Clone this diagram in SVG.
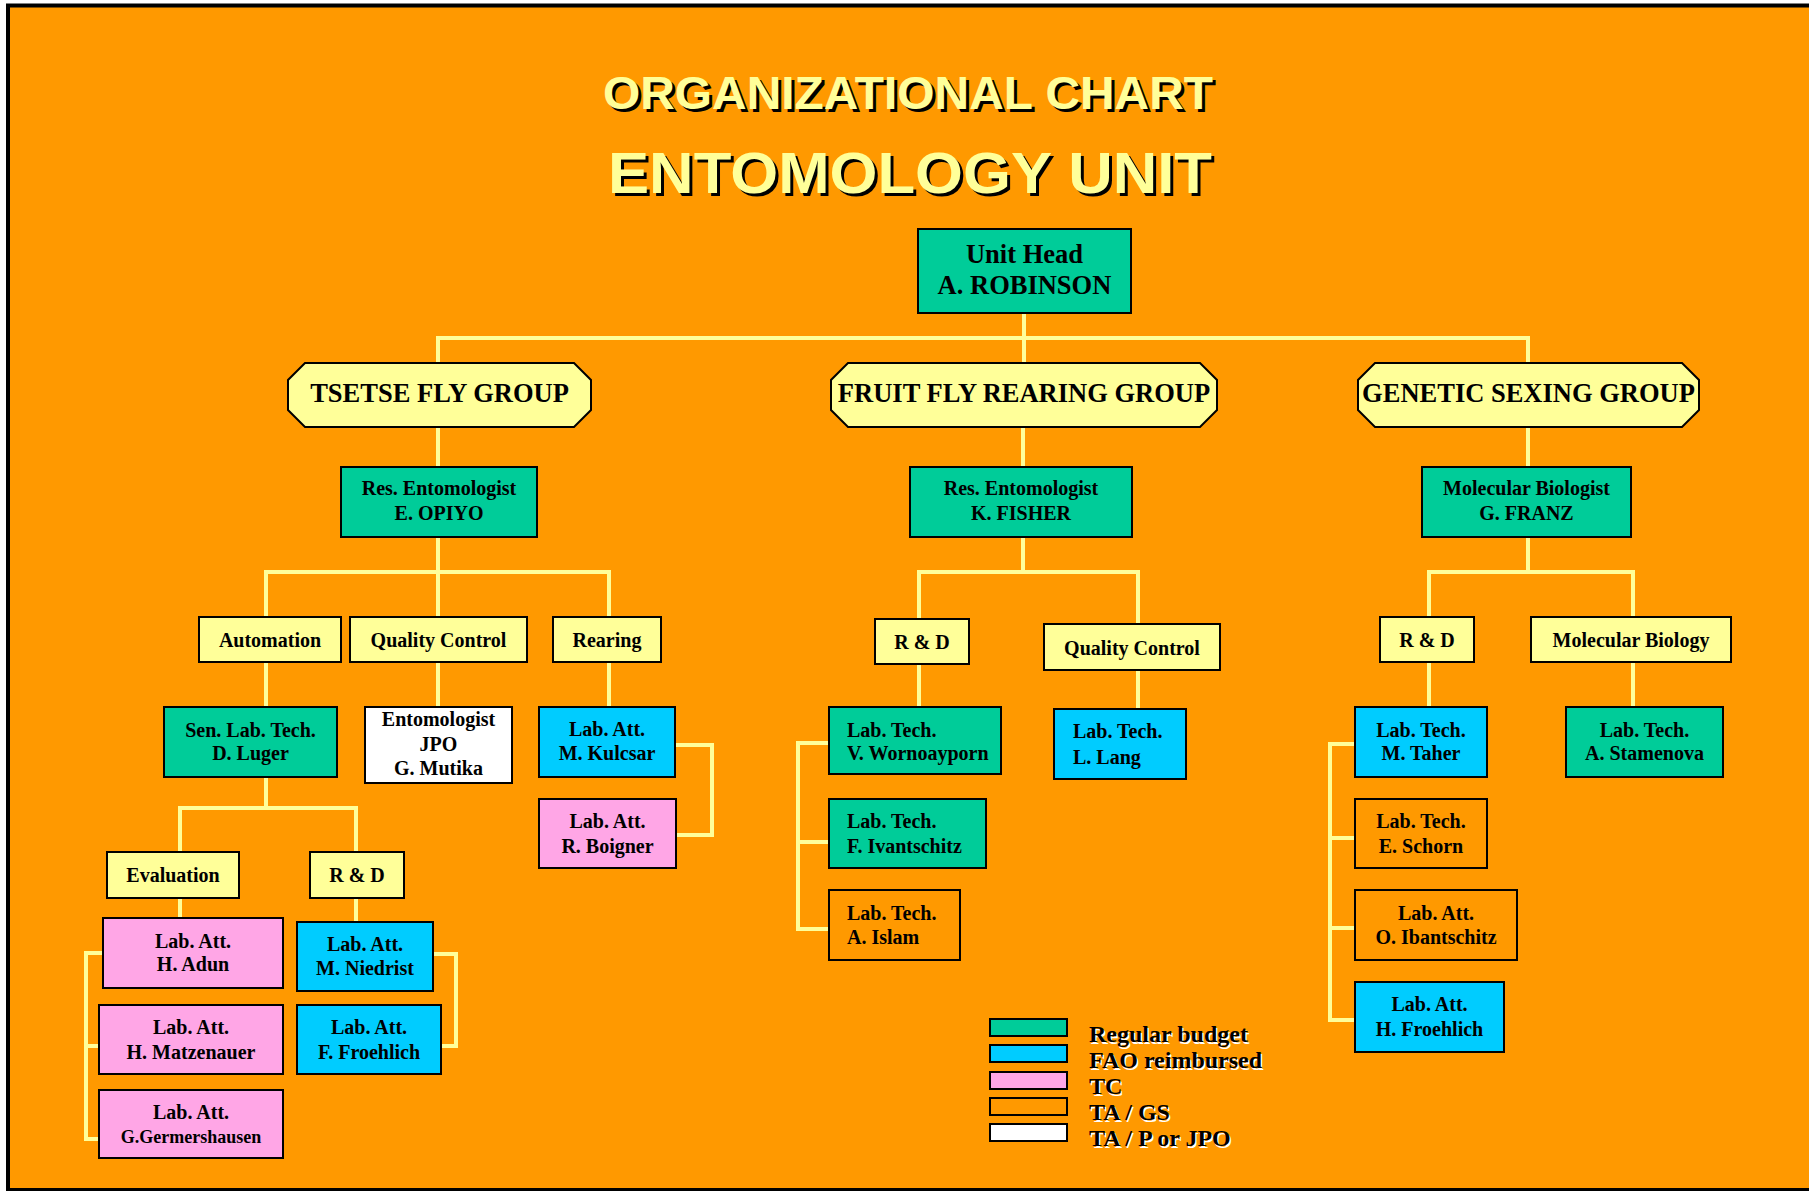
<svg xmlns="http://www.w3.org/2000/svg" width="1809" height="1191" viewBox="0 0 1809 1191">
<style>
.bx{stroke:#000;stroke-width:2}
.g{fill:#00CC99}.c{fill:#00CCFF}.p{fill:#FFA6E6}.o{fill:#FF9900}.w{fill:#FFFFFF}.y{fill:#FFFF99}
text{font-family:"Liberation Serif","Times New Roman",serif;font-weight:bold;fill:#000}
.t20{font-size:20px}.t26{font-size:26.5px}.m{text-anchor:middle}
.ttl{font-family:"Liberation Sans",Arial,sans-serif;font-weight:bold}
.cn{fill:none;stroke:#FFFF99;stroke-width:4}
.lg{font-size:24px}
</style>
<rect x="0" y="0" width="1809" height="1191" fill="#FFFFFF"/>
<rect x="8" y="5.5" width="1900" height="1184.5" fill="#FF9900" stroke="#000" stroke-width="4"/>

<g id="title">
<text class="ttl" x="606" y="112" font-size="46" textLength="610" lengthAdjust="spacingAndGlyphs" fill="#000" style="fill:#000">ORGANIZATIONAL CHART</text>
<text class="ttl" x="603" y="109" font-size="46" textLength="610" lengthAdjust="spacingAndGlyphs" style="fill:#FFFF99">ORGANIZATIONAL CHART</text>
<text class="ttl" x="611" y="196" font-size="58" textLength="604" lengthAdjust="spacingAndGlyphs" style="fill:#000">ENTOMOLOGY UNIT</text>
<text class="ttl" x="608" y="193" font-size="58" textLength="604" lengthAdjust="spacingAndGlyphs" style="fill:#FFFF99">ENTOMOLOGY UNIT</text>
</g>

<g id="connectors" class="cn">
<path d="M1024,313V363M438,338H1530M438,336V363M1528,336V363"/>
<path d="M438,427V467M438,537V617M266,572H609M266,570V617M609,570V617M266,662V707M438,662V707M609,662V707"/>
<path d="M675,745H712V835H676"/>
<path d="M266,777V808M180,808H356M180,806V852M356,806V852M180,898V918M356,898V922"/>
<path d="M103,953H86V1139H99M86,1046H99"/>
<path d="M433,954H456V1046H441"/>
<path d="M1023,427V467M1023,537V572M919,572H1138M919,570V619M1138,570V624M919,664V707M1138,670V709"/>
<path d="M829,743H798V929H829M798,842H829"/>
<path d="M1528,427V467M1528,537V572M1429,572H1633M1429,570V617M1633,570V617M1429,662V707M1633,662V707"/>
<path d="M1355,744H1330V1020H1355M1330,838H1355M1330,928H1355"/>
</g>

<g id="unit-head"><rect class="bx g" x="918" y="229" width="213" height="84"/>
<text class="t26 m" x="1024.5" y="263">Unit Head</text><text class="t26 m" x="1024.5" y="294">A. ROBINSON</text></g>

<g id="tsetse-group"><polygon class="bx y" points="305,363 574,363 591,380 591,410 574,427 305,427 288,410 288,380"/>
<text class="t26 m" x="439.5" y="402">TSETSE FLY GROUP</text></g>
<g id="fruit-group"><polygon class="bx y" points="848,363 1200,363 1217,380 1217,410 1200,427 848,427 831,410 831,380"/>
<text class="t26 m" x="1024" y="402">FRUIT FLY REARING GROUP</text></g>
<g id="genetic-group"><polygon class="bx y" points="1375,363 1682,363 1699,380 1699,410 1682,427 1375,427 1358,410 1358,380"/>
<text class="t26 m" x="1528.5" y="402">GENETIC SEXING GROUP</text></g>

<g id="opiyo"><rect class="bx g" x="341" y="467" width="196" height="70"/>
<text class="t20 m" x="439" y="495">Res. Entomologist</text><text class="t20 m" x="439" y="520">E. OPIYO</text></g>
<g id="fisher"><rect class="bx g" x="910" y="467" width="222" height="70"/>
<text class="t20 m" x="1021" y="495">Res. Entomologist</text><text class="t20 m" x="1021" y="520">K. FISHER</text></g>
<g id="franz"><rect class="bx g" x="1422" y="467" width="209" height="70"/>
<text class="t20 m" x="1526.5" y="495">Molecular Biologist</text><text class="t20 m" x="1526.5" y="520">G. FRANZ</text></g>

<g id="automation"><rect class="bx y" x="199" y="617" width="142" height="45"/><text class="t20 m" x="270" y="647">Automation</text></g>
<g id="qc-tsetse"><rect class="bx y" x="350" y="617" width="177" height="45"/><text class="t20 m" x="438.5" y="647">Quality Control</text></g>
<g id="rearing"><rect class="bx y" x="553" y="617" width="108" height="45"/><text class="t20 m" x="607" y="647">Rearing</text></g>

<g id="luger"><rect class="bx g" x="164" y="707" width="173" height="70"/>
<text class="t20 m" x="250.5" y="737">Sen. Lab. Tech.</text><text class="t20 m" x="250.5" y="760">D. Luger</text></g>
<g id="mutika"><rect class="bx w" x="365" y="707" width="147" height="76"/>
<text class="t20 m" x="438.5" y="726">Entomologist</text><text class="t20 m" x="438.5" y="751">JPO</text><text class="t20 m" x="438.5" y="775">G. Mutika</text></g>
<g id="kulcsar"><rect class="bx c" x="539" y="707" width="136" height="70"/>
<text class="t20 m" x="607" y="736">Lab. Att.</text><text class="t20 m" x="607" y="760">M. Kulcsar</text></g>
<g id="boigner"><rect class="bx p" x="539" y="799" width="137" height="69"/>
<text class="t20 m" x="607.5" y="828">Lab. Att.</text><text class="t20 m" x="607.5" y="853">R. Boigner</text></g>

<g id="evaluation"><rect class="bx y" x="107" y="852" width="132" height="46"/><text class="t20 m" x="173" y="882">Evaluation</text></g>
<g id="rd-tsetse"><rect class="bx y" x="310" y="852" width="94" height="46"/><text class="t20 m" x="357" y="882">R &amp; D</text></g>

<g id="adun"><rect class="bx p" x="103" y="918" width="180" height="70"/>
<text class="t20 m" x="193" y="948">Lab. Att.</text><text class="t20 m" x="193" y="971">H. Adun</text></g>
<g id="matzenauer"><rect class="bx p" x="99" y="1005" width="184" height="69"/>
<text class="t20 m" x="191" y="1034">Lab. Att.</text><text class="t20 m" x="191" y="1059">H. Matzenauer</text></g>
<g id="germershausen"><rect class="bx p" x="99" y="1090" width="184" height="68"/>
<text class="t20 m" x="191" y="1119">Lab. Att.</text><text class="m" font-size="18" x="191" y="1143">G.Germershausen</text></g>
<g id="niedrist"><rect class="bx c" x="297" y="922" width="136" height="69"/>
<text class="t20 m" x="365" y="951">Lab. Att.</text><text class="t20 m" x="365" y="975">M. Niedrist</text></g>
<g id="f-froehlich"><rect class="bx c" x="297" y="1005" width="144" height="69"/>
<text class="t20 m" x="369" y="1034">Lab. Att.</text><text class="t20 m" x="369" y="1059">F. Froehlich</text></g>

<g id="rd-fruit"><rect class="bx y" x="875" y="619" width="94" height="45"/><text class="t20 m" x="922" y="649">R &amp; D</text></g>
<g id="qc-fruit"><rect class="bx y" x="1044" y="624" width="176" height="46"/><text class="t20 m" x="1132" y="655">Quality Control</text></g>
<g id="wornoayporn"><rect class="bx g" x="829" y="707" width="172" height="67"/>
<text class="t20" x="847" y="737">Lab. Tech.</text><text class="t20" x="847" y="760">V. Wornoayporn</text></g>
<g id="ivantschitz"><rect class="bx g" x="829" y="799" width="157" height="69"/>
<text class="t20" x="847" y="828">Lab. Tech.</text><text class="t20" x="847" y="853">F. Ivantschitz</text></g>
<g id="islam"><rect class="bx o" x="829" y="890" width="131" height="70"/>
<text class="t20" x="847" y="920">Lab. Tech.</text><text class="t20" x="847" y="944">A. Islam</text></g>
<g id="lang"><rect class="bx c" x="1054" y="709" width="132" height="70"/>
<text class="t20" x="1073" y="738">Lab. Tech.</text><text class="t20" x="1073" y="764">L. Lang</text></g>

<g id="rd-genetic"><rect class="bx y" x="1380" y="617" width="94" height="45"/><text class="t20 m" x="1427" y="647">R &amp; D</text></g>
<g id="mol-biology"><rect class="bx y" x="1531" y="617" width="200" height="45"/><text class="t20 m" x="1631" y="647">Molecular Biology</text></g>
<g id="taher"><rect class="bx c" x="1355" y="707" width="132" height="70"/>
<text class="t20 m" x="1421" y="737">Lab. Tech.</text><text class="t20 m" x="1421" y="760">M. Taher</text></g>
<g id="stamenova"><rect class="bx g" x="1566" y="707" width="157" height="70"/>
<text class="t20 m" x="1644.5" y="737">Lab. Tech.</text><text class="t20 m" x="1644.5" y="760">A. Stamenova</text></g>
<g id="schorn"><rect class="bx o" x="1355" y="799" width="132" height="69"/>
<text class="t20 m" x="1421" y="828">Lab. Tech.</text><text class="t20 m" x="1421" y="853">E. Schorn</text></g>
<g id="ibantschitz"><rect class="bx o" x="1355" y="890" width="162" height="70"/>
<text class="t20 m" x="1436" y="920">Lab. Att.</text><text class="t20 m" x="1436" y="944">O. Ibantschitz</text></g>
<g id="h-froehlich"><rect class="bx c" x="1355" y="982" width="149" height="70"/>
<text class="t20 m" x="1429.5" y="1011">Lab. Att.</text><text class="t20 m" x="1429.5" y="1036">H. Froehlich</text></g>

<g id="legend">
<rect class="bx g" x="990" y="1019" width="77" height="17"/>
<rect class="bx c" x="990" y="1045" width="77" height="17"/>
<rect class="bx p" x="990" y="1072" width="77" height="17"/>
<rect class="bx o" x="990" y="1098" width="77" height="17"/>
<rect class="bx w" x="990" y="1124" width="77" height="17"/>
<g style="fill:#FFFFFF">
<text class="lg" x="1090.5" y="1043.5" style="fill:#FFFFFF">Regular budget</text>
<text class="lg" x="1090.5" y="1069.5" style="fill:#FFFFFF">FAO reimbursed</text>
<text class="lg" x="1090.5" y="1095.5" style="fill:#FFFFFF">TC</text>
<text class="lg" x="1090.5" y="1121.5" style="fill:#FFFFFF">TA / GS</text>
<text class="lg" x="1090.5" y="1147.5" style="fill:#FFFFFF">TA / P or JPO</text>
</g>
<text class="lg" x="1089" y="1042">Regular budget</text>
<text class="lg" x="1089" y="1068">FAO reimbursed</text>
<text class="lg" x="1089" y="1094">TC</text>
<text class="lg" x="1089" y="1120">TA / GS</text>
<text class="lg" x="1089" y="1146">TA / P or JPO</text>
</g>
</svg>
